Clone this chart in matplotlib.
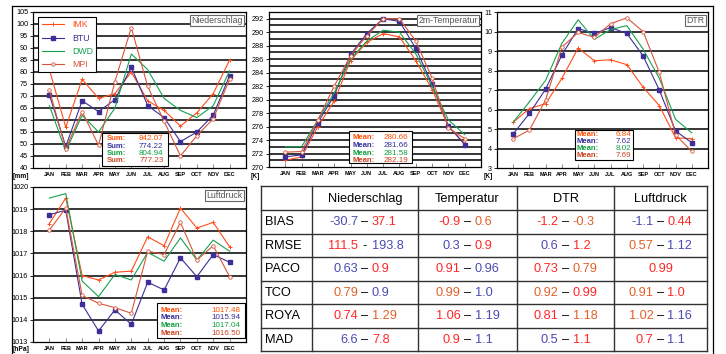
import matplotlib
matplotlib.use('Agg')
import matplotlib.pyplot as plt
from matplotlib.patches import Rectangle
from matplotlib.lines import Line2D

# ---------------- data ----------------
months = ['JAN', 'FEB', 'MAR', 'APR', 'MAY', 'JUN', 'JUL', 'AUG', 'SEP', 'OCT', 'NOV', 'DEC']
models = ['IMK', 'BTU', 'DWD', 'MPI']

precip_imk = [81, 57, 77, 69, 71, 80, 68, 64, 57.5, 63, 71, 85]
precip_btu = [70.5, 49, 68, 63.5, 68.5, 82, 66, 61, 51, 55, 62, 78.5]
precip_dwd = [66, 47, 62, 55, 65, 87.5, 81, 69, 64, 61, 66, 80.5]
precip_mpi = [72.5, 48, 63.5, 49.5, 76, 98.5, 74, 59.5, 45, 53.5, 60.5, 77]
precip_sums = ['842.07', '774.22', '804.94', '777.23']

temp_imk = [271.0, 271.5, 276.0, 279.8, 285.8, 288.5, 289.8, 289.3, 285.8, 281.5, 276.0, 273.5]
temp_btu = [271.5, 271.8, 276.6, 280.6, 286.7, 289.8, 292.0, 291.6, 287.6, 282.3, 276.1, 273.3]
temp_dwd = [273.0, 273.0, 277.0, 281.0, 286.0, 288.7, 290.3, 290.0, 286.8, 282.0, 277.0, 274.8]
temp_mpi = [272.2, 272.3, 277.0, 282.0, 286.5, 289.5, 292.0, 292.0, 288.7, 283.2, 275.8, 274.2]
temp_means = ['280.66', '281.66', '281.58', '282.19']

dtr_imk = [5.35, 6.05, 6.3, 7.6, 9.15, 8.5, 8.55, 8.3, 7.15, 6.2, 4.55, 4.5]
dtr_btu = [4.75, 5.8, 7.05, 8.8, 10.15, 9.9, 10.2, 9.9, 8.75, 7.0, 4.9, 4.3]
dtr_dwd = [5.35, 6.4, 7.5, 9.4, 10.6, 9.6, 10.1, 10.3, 9.1, 7.6, 5.5, 4.8]
dtr_mpi = [4.5, 4.95, 6.5, 9.2, 9.95, 9.7, 10.4, 10.7, 10.0, 7.9, 4.7, 3.85]
dtr_means = ['6.84', '7.62', '8.02', '7.69']

pres_imk = [1018.35, 1019.5, 1016.0, 1015.8, 1016.15, 1016.2, 1017.75, 1017.35, 1019.05, 1018.15, 1018.4, 1017.3]
pres_btu = [1018.75, 1018.95, 1014.7, 1013.5, 1014.45, 1013.8, 1015.7, 1015.35, 1016.8, 1015.95, 1016.95, 1016.6]
pres_dwd = [1019.5, 1019.7, 1015.75, 1015.05, 1016.05, 1015.8, 1017.05, 1016.65, 1017.7, 1016.7, 1017.6, 1017.1]
pres_mpi = [1018.05, 1019.05, 1015.1, 1014.75, 1014.55, 1014.3, 1017.1, 1016.95, 1018.4, 1016.7, 1017.35, 1015.95]
pres_means = ['1017.48', '1015.94', '1017.04', '1016.50']

table_cols = ['Niederschlag', 'Temperatur', 'DTR', 'Luftdruck']
table_rows = ['BIAS', 'RMSE', 'PACO', 'TCO', 'ROYA', 'MAD']
table_lo = [['-30.7', '-0.9', '-1.2', '-1.1'],
            ['111.5', '0.3', '0.6', '0.57'],
            ['0.63', '0.91', '0.73', ''],
            ['0.79', '0.99', '0.92', '0.91'],
            ['0.74', '1.06', '0.81', '1.02'],
            ['6.6', '0.9', '0.5', '0.7']]
table_hi = [['37.1', '0.6', '-0.3', '0.44'],
            ['193.8', '0.9', '1.2', '1.12'],
            ['0.9', '0.96', '0.79', '0.99'],
            ['0.9', '1.0', '0.99', '1.0'],
            ['1.29', '1.19', '1.18', '1.16'],
            ['7.8', '1.1', '1.1', '1.1']]
table_sep = [['–', '–', '–', '–'],
             ['-', '–', '–', '–'],
             ['–', '–', '–', ''],
             ['–', '–', '–', '–'],
             ['–', '–', '–', '–'],
             ['–', '–', '–', '–']]
# color codes: B blue, R red, O orange
table_lo_col = [['B', 'R', 'R', 'B'],
                ['R', 'B', 'B', 'O'],
                ['B', 'R', 'R', 'R'],
                ['O', 'O', 'O', 'O'],
                ['R', 'R', 'R', 'O'],
                ['B', 'R', 'B', 'R']]
table_hi_col = [['R', 'O', 'O', 'R'],
                ['B', 'R', 'R', 'B'],
                ['R', 'B', 'O', 'R'],
                ['B', 'B', 'R', 'R'],
                ['O', 'B', 'O', 'B'],
                ['R', 'B', 'R', 'B']]

# ---------------- style ----------------
line_colors = ['#ff4d1a', '#3d2f96', '#17a050', '#d9553a']
text_colors = ['#ff5000', '#35309a', '#10a040', '#cc4422']
markers = ['+', 's', None, 'o']
code_colors = {'B': '#4a4ab4', 'R': '#ff2626', 'O': '#e0602a'}
FONT = ['Liberation Sans', 'DejaVu Sans']

W, H = 726, 354
fig = plt.figure(figsize=(W / 100, H / 100), dpi=100)
fig.patch.set_facecolor('white')


def ax_px(x0, y0, x1, y1):
    return fig.add_axes([x0 / W, 1 - y1 / H, (x1 - x0) / W, (y1 - y0) / H])


def panel(ax, series, ylim, ylabels_step, grid_step, title, stat_word, stats,
          box, lines_y, word_x, val_x, unit, legend=False):
    x = list(range(len(months)))
    for i, s in enumerate(series):
        m = markers[i]
        kw = dict(color=line_colors[i], lw=0.8, zorder=3)
        if m == '+':
            kw.update(marker='+', ms=3.5, mew=0.7)
        elif m == 's':
            kw.update(marker='s', ms=2.2, mfc=line_colors[i], mec=line_colors[i])
        elif m == 'o':
            kw.update(marker='o', ms=2.5, mfc='white', mec=line_colors[i], mew=0.6)
        ax.plot(x, s, label=models[i], **kw)
    ax.set_xlim(-1, 12)
    ax.set_ylim(*ylim)
    g = ylim[0] + grid_step
    while g < ylim[1] - 1e-9:
        ax.axhline(g, color='black', lw=1.1, zorder=1)
        g += grid_step
    ticks = []
    t = ylim[0]
    while t <= ylim[1] + 1e-9:
        ticks.append(t)
        t += ylabels_step
    ax.set_yticks(ticks)
    ax.set_yticklabels([('%g' % v) for v in ticks], fontsize=5.2, family=FONT)
    ax.set_xticks(x)
    ax.set_xticklabels(months, fontsize=4, family=FONT, fontweight='bold')
    ax.tick_params(axis='x', direction='in', length=3, width=0.6, color='#777', pad=3)
    ax.tick_params(axis='y', direction='out', length=2, width=0.6, pad=1.5)
    for sp in ax.spines.values():
        sp.set_linewidth(0.9)
    ax.text(0.985, 0.975, title, transform=ax.transAxes, ha='right', va='top',
            fontsize=6.3, color='#555555', family=FONT, zorder=7,
            bbox=dict(boxstyle='square,pad=0.15', fc='white', ec='#666666', lw=0.8))
    bx0, by0, bx1, by1 = box
    ax.add_patch(Rectangle((bx0, by0), bx1 - bx0, by1 - by0, transform=ax.transAxes,
                           fc='white', ec='black', lw=0.8, zorder=5))
    for i, v in enumerate(stats):
        ax.text(word_x, lines_y[i], stat_word, transform=ax.transAxes, ha='left', va='center',
                fontsize=5.5, color=text_colors[i], family=FONT, fontweight='bold', zorder=6)
        ax.text(val_x, lines_y[i], v, transform=ax.transAxes, ha='right', va='center',
                fontsize=5.8, color=text_colors[i], family=FONT, zorder=6)
    ax.text(unit[0], unit[1], unit[2], transform=fig.transFigure, ha='left', va='center',
            fontsize=4.8, family=FONT, fontweight='bold')
    if legend:
        leg = ax.legend(loc='upper left', bbox_to_anchor=(0.005, 0.995),
                        frameon=True, fancybox=False, edgecolor='black', framealpha=1,
                        handlelength=2.6, borderpad=0.35, labelspacing=0.5,
                        handletextpad=0.9, prop={'family': FONT, 'size': 6.3})
        leg.get_frame().set_linewidth(0.8)
        for txt, c in zip(leg.get_texts(), line_colors):
            txt.set_color(c)
        leg.set_zorder(8)


ax1 = ax_px(33, 12, 246, 168)
panel(ax1, [precip_imk, precip_btu, precip_dwd, precip_mpi], (40, 105), 5, 5,
      'Niederschlag', 'Sum:', precip_sums,
      (0.325, 0.013, 0.632, 0.224), [0.186, 0.137, 0.091, 0.046], 0.344, 0.613,
      (13 / W, 1 - 176.5 / H, '[mm]'), legend=True)

ax2 = ax_px(269, 12, 481, 167)
panel(ax2, [temp_imk, temp_btu, temp_dwd, temp_mpi], (270, 293), 2, 1,
      '2m-Temperatur', 'Mean:', temp_means,
      (0.377, 0.026, 0.675, 0.232), [0.190, 0.138, 0.087, 0.040], 0.392, 0.656,
      (251 / W, 1 - 176 / H, '[K]'))
ax2.set_yticks(list(range(270, 293, 2)))
ax2.set_yticklabels([str(v) for v in range(270, 293, 2)], fontsize=5.2, family=FONT)

ax3 = ax_px(497, 12, 708, 168)
panel(ax3, [dtr_imk, dtr_btu, dtr_dwd, dtr_mpi], (3, 11), 1, 1,
      'DTR', 'Mean:', dtr_means,
      (0.37, 0.051, 0.645, 0.244), [0.212, 0.167, 0.122, 0.077], 0.379, 0.635,
      (484 / W, 1 - 176.5 / H, '[K]'))

ax4 = ax_px(33, 187, 246, 342)
panel(ax4, [pres_imk, pres_btu, pres_dwd, pres_mpi], (1013, 1020), 1, 1,
      'Luftdruck', 'Mean:', pres_means,
      (0.58, 0.026, 0.995, 0.25), [0.206, 0.155, 0.104, 0.058], 0.60, 0.975,
      (13 / W, 1 - 349.5 / H, '[hPa]'))

# ---------------- table ----------------
col_w = [51, 106, 99, 97, 93]
row_h = [24] + [23.5] * len(table_rows)
tx0, ty0 = 261, 186
tw, th = sum(col_w), sum(row_h)
axt = ax_px(tx0, ty0, tx0 + tw, ty0 + th)
axt.set_xlim(0, tw)
axt.set_ylim(th, 0)
axt.axis('off')
edge = '#333333'
xs = [0]
for w in col_w:
    xs.append(xs[-1] + w)
ys = [0]
for h in row_h:
    ys.append(ys[-1] + h)
for xv in xs:
    axt.plot([xv, xv], [0, th], color=edge, lw=1.0, clip_on=False)
for yv in ys:
    axt.plot([0, tw], [yv, yv], color=edge, lw=1.0, clip_on=False)

FS = 9.2
for j, c in enumerate(table_cols):
    cx = (xs[j + 1] + xs[j + 2]) / 2
    axt.text(cx, row_h[0] / 2 + 0.5, c, ha='center', va='center', fontsize=FS, family=FONT)
for i, r in enumerate(table_rows):
    cy = (ys[i + 1] + ys[i + 2]) / 2 + 0.5
    axt.text(4, cy, r, ha='left', va='center', fontsize=FS, family=FONT)
    for j in range(len(table_cols)):
        cx = (xs[j + 1] + xs[j + 2]) / 2
        lo, hi, sep = table_lo[i][j], table_hi[i][j], table_sep[i][j]
        if lo == '':
            axt.text(cx, cy, hi, ha='center', va='center', fontsize=FS, family=FONT,
                     color=code_colors[table_hi_col[i][j]])
            continue
        axt.text(cx - 7, cy, lo, ha='right', va='center', fontsize=FS, family=FONT,
                 color=code_colors[table_lo_col[i][j]])
        axt.text(cx, cy, sep, ha='center', va='center', fontsize=FS, family=FONT, color='black')
        axt.text(cx + 7, cy, hi, ha='left', va='center', fontsize=FS, family=FONT,
                 color=code_colors[table_hi_col[i][j]])

# ---------------- outer frame ----------------
def fline(x0, y0, x1, y1):
    fig.add_artist(Line2D([x0 / W, x1 / W], [1 - y0 / H, 1 - y1 / H], color='black', lw=0.9))

fline(12, 6, 713, 6)
fline(12, 6, 12, 354)
fline(713, 6, 713, 354)

fig.savefig('out.png', dpi=100)
